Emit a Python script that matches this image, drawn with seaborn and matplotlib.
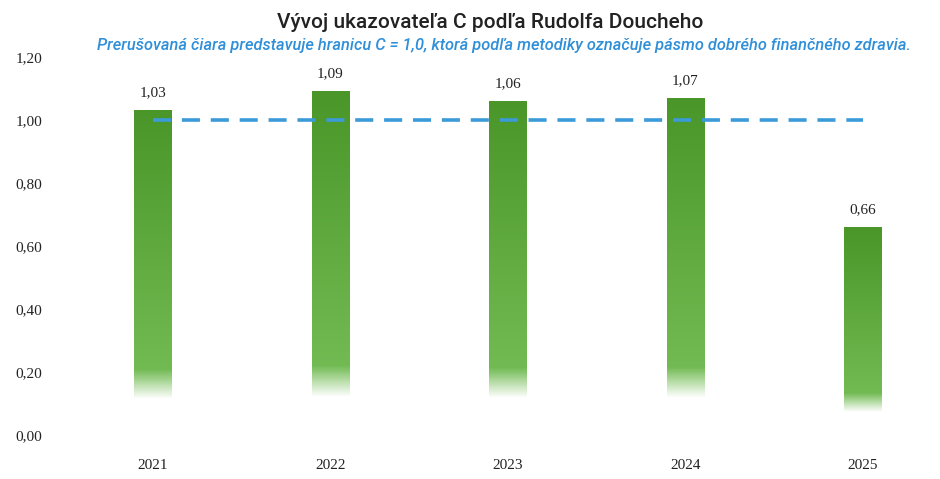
import numpy as np
import pandas as pd
import seaborn as sns
import matplotlib.pyplot as plt
from matplotlib.colors import to_rgb

years = ['2021', '2022', '2023', '2024', '2025']
c_values = [1.03, 1.09, 1.06, 1.07, 0.66]
threshold = 1.0
y_ticks = [0.0, 0.2, 0.4, 0.6, 0.8, 1.0, 1.2]

title = 'Vývoj ukazovateľa C podľa Rudolfa Doucheho'
subtitle = ('Prerušovaná čiara predstavuje hranicu C = 1,0, ktorá podľa metodiky '
            'označuje pásmo dobrého finančného zdravia.')

df = pd.DataFrame({'rok': years, 'C': c_values})

sns.set_theme(style='white')
plt.rcParams['font.family'] = ['DejaVu Sans']

fig = plt.figure(figsize=(9.4, 4.79), dpi=100)
ax = fig.add_axes([0.0685, 0.092, 0.934, 0.789])

sns.barplot(data=df, x='rok', y='C', color='#5aa83a', width=0.21, ax=ax)

# gradient fill: darker green at the top, fading to white at the bottom
top_c = np.array(to_rgb('#4a9628'))
low_c = np.array(to_rgb('#7cc45e'))
for bar in ax.patches:
    x0, w, h = bar.get_x(), bar.get_width(), bar.get_height()
    f = np.linspace(0, 1, 300)[:, None]
    rgb = low_c + (top_c - low_c) * f
    alpha = np.clip((f - 0.11) / 0.09, 0, 1)
    img = np.dstack([rgb[:, 0:1], rgb[:, 1:2], rgb[:, 2:3], alpha])
    ax.imshow(img, extent=[x0, x0 + w, 0, h], origin='lower', aspect='auto', zorder=3)
    bar.set_visible(False)
    ax.text(x0 + w / 2, h + 0.035, f'{h:.2f}'.replace('.', ','), ha='center', va='bottom',
            fontsize=11, family='Liberation Serif', color='#222222')

ax.hlines(threshold, 0, 4, colors='#3b9ad8', linestyles=(0, (5, 3)), linewidth=2.6, zorder=4)

ax.set_xlim(-0.5, 4.45)
ax.set_ylim(0, 1.2)
ax.set_yticks(y_ticks)
ax.set_yticklabels([f'{v:.2f}'.replace('.', ',') for v in y_ticks],
                   family='Liberation Serif', fontsize=11, color='#222222')
ax.set_xticks(range(len(years)))
ax.set_xticklabels(years, family='Liberation Serif', fontsize=11, color='#222222')
ax.tick_params(axis='y', pad=16, length=0)
ax.tick_params(axis='x', pad=17, length=0)
ax.set_xlabel('')
ax.set_ylabel('')
sns.despine(ax=ax, left=True, bottom=True)

fig.text(0.522, 0.953, title, ha='center', va='center', fontsize=15, color='#222222',
         family='Roboto', fontweight='medium')
fig.text(0.103, 0.905, subtitle, ha='left', va='center', fontsize=11.8, color='#2f8fd8',
         style='italic', fontweight='medium', family='Roboto')

fig.savefig('out.png', dpi=100)
